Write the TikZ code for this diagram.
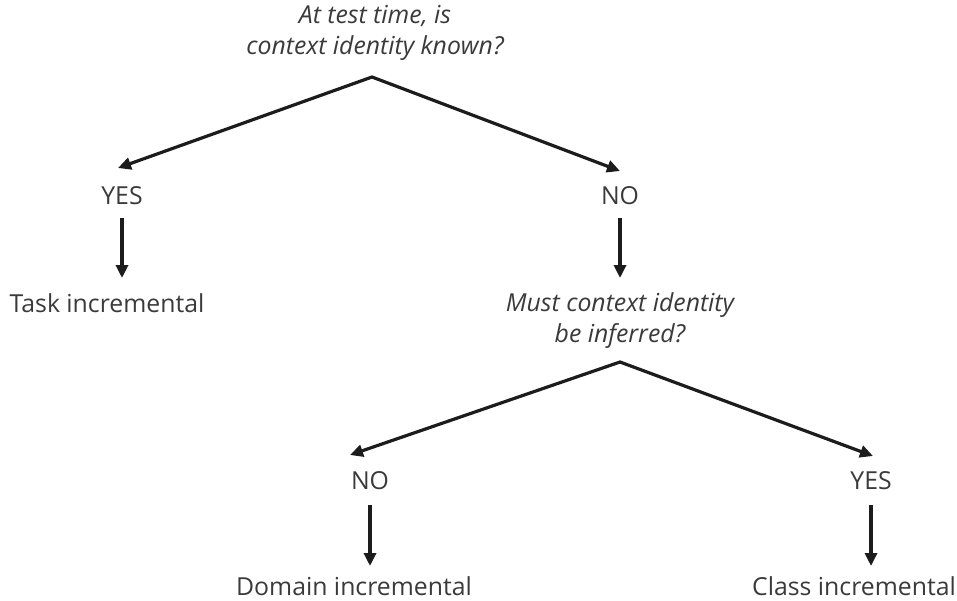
\documentclass[tikz,border=0pt]{standalone}
\usepackage{fontspec}
\setmainfont{Open Sans}
\usetikzlibrary{arrows.meta}
\definecolor{txt}{HTML}{3A3A3A}
\definecolor{ln}{HTML}{1C1C1C}
\begin{document}
\begin{tikzpicture}[x=1pt,y=-1pt,
  lbl/.style={font=\fontsize{24.8}{31}\selectfont, text=txt, inner sep=0pt, align=center},
  qst/.style={lbl, font=\fontsize{24.8}{31}\selectfont\itshape},
  arr/.style={draw=ln, line width=3.2pt, -{Triangle[length=13pt,width=12pt]}},
  vee/.style={draw=ln, line width=3.2pt, line join=miter, {Triangle[length=13pt,width=12pt]}-{Triangle[length=13pt,width=12pt]}}]
\useasboundingbox (0,0) rectangle (957,600);
% nodes
\node[qst] (q1) at (375,33) {At test time, is\\context identity known?};
\node[lbl] (yes1) at (122,196) {YES};
\node[lbl] (no1) at (620,196) {NO};
\node[lbl] (task) at (107,303) {Task incremental};
\node[qst] (q2) at (620,321) {Must context identity\\be inferred?};
\node[lbl] (no2) at (370,481) {NO};
\node[lbl] (yes2) at (871,481) {YES};
\node[lbl] (dom) at (354,586) {Domain incremental};
\node[lbl] (cls) at (854,586) {Class incremental};
% apex and tip coordinates
\coordinate (ap1) at (372,77);
\coordinate (t1l) at (118,168);
\coordinate (t1r) at (620,171);
\coordinate (ap2) at (620,362);
\coordinate (t2l) at (350,455);
\coordinate (t2r) at (873,456);
\coordinate (s1) at (122,218);  \coordinate (e1) at (122,278);
\coordinate (s2) at (620,218);  \coordinate (e2) at (620,278);
\coordinate (s3) at (370,505);  \coordinate (e3) at (370,566);
\coordinate (s4) at (871,505);  \coordinate (e4) at (871,566);
% connectors
\draw[vee] (t1l) -- (ap1) -- (t1r);
\draw[vee] (t2l) -- (ap2) -- (t2r);
\draw[arr] (s1) -- (e1);
\draw[arr] (s2) -- (e2);
\draw[arr] (s3) -- (e3);
\draw[arr] (s4) -- (e4);
\end{tikzpicture}
\end{document}
